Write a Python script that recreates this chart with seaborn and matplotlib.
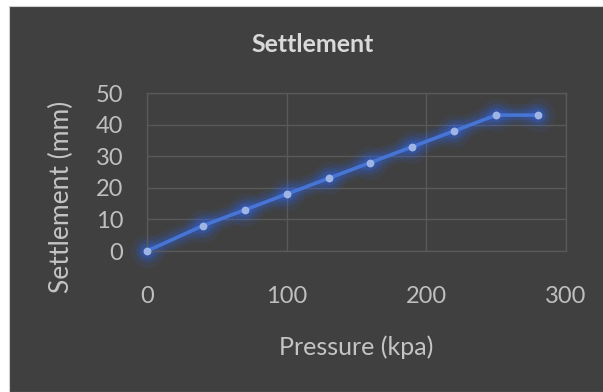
import numpy as np
import pandas as pd
import matplotlib as mpl
mpl.use('Agg')
import matplotlib.pyplot as plt
import matplotlib.patches as mpatches
import seaborn as sns

# data
pressure = [0, 40, 70, 100, 130, 160, 190, 220, 250, 280]
settlement = [0, 8, 13, 18, 23, 28, 33, 38, 43, 43]
x_ticks = [0, 100, 200, 300]
y_ticks = [0, 10, 20, 30, 40, 50]

df = pd.DataFrame({'Pressure (kpa)': pressure, 'Settlement (mm)': settlement})

sns.set_style('dark')
plt.rcParams['font.family'] = ['Lato', 'DejaVu Sans']

bg = '#404040'
grid_c = '#595959'
line_c = '#4675d6'
mark_c = '#9db4e4'
text_c = '#bfbfbf'

fig = plt.figure(figsize=(6.03, 3.92), dpi=100)
fig.patch.set_facecolor('white')
# dark chart area, white strip top/left like the screenshot
fig.patches.append(mpatches.Rectangle((9 / 603, 0), 1, 1 - 6 / 392, transform=fig.transFigure,
                                      facecolor=bg, edgecolor='#d0d0d0', lw=0.8, zorder=-10))

ax = fig.add_axes([147 / 603, 1 - 251 / 392, (566 - 147) / 603, (251 - 93) / 392])
ax.set_facecolor(bg)

# glow
for lw, a in [(16, 0.07), (11, 0.11), (7, 0.16)]:
    sns.lineplot(data=df, x='Pressure (kpa)', y='Settlement (mm)', ax=ax, color='#2f6bff',
                 lw=lw, alpha=a, solid_capstyle='round', zorder=2, clip_on=False)
    ax.scatter(pressure, settlement, s=(lw * 1.5) ** 2, color='#2f6bff', alpha=a, lw=0,
               zorder=2, clip_on=False)

sns.lineplot(data=df, x='Pressure (kpa)', y='Settlement (mm)', ax=ax, color=line_c,
             lw=2.6, zorder=3, clip_on=False)
ax.scatter(pressure, settlement, s=32, color=mark_c, lw=0, zorder=4, clip_on=False)

ax.set_xlim(0, 300)
ax.set_ylim(0, 50)
ax.set_xticks(x_ticks)
ax.set_yticks(y_ticks)
ax.grid(True, color=grid_c, lw=1)
for s in ax.spines.values():
    s.set_color(grid_c)
    s.set_linewidth(1)
ax.tick_params(axis='both', length=0, colors=text_c, labelsize=17)
ax.tick_params(axis='x', pad=25)
ax.tick_params(axis='y', pad=17)

ax.set_xlabel('Pressure (kpa)', fontsize=18, color='#c4c4c4', labelpad=21)
ax.set_ylabel('Settlement (mm)', fontsize=19, color='#c4c4c4')
ax.yaxis.set_label_coords((74 - 147) / 419, (251 - 197) / 158)
fig.text(313 / 603, 1 - 44 / 392, 'Settlement', ha='center', va='center',
         fontsize=18, fontweight='bold', color='#d9d9d9')

fig.savefig('out.png', dpi=100)
